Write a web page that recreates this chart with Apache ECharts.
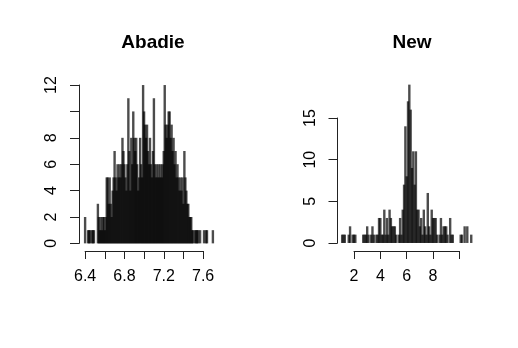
<!DOCTYPE html>
<html>
<head>
<meta charset="utf-8">
<script src="https://cdn.jsdelivr.net/npm/echarts@6/dist/echarts.min.js"></script>
<style>html,body{margin:0;padding:0;background:#fff}#c{width:518px;height:348px}</style>
</head>
<body>
<div id="c"></div>
<script>
// ---- Data: Abadie (value -> count) ----
var abadieX = [6.40,6.43,6.44,6.45,6.47,6.48,6.49,6.53,6.54,6.55,6.56,6.57,6.58,6.59,6.60,6.61,
  6.62,6.63,6.64,6.65,6.66,6.67,6.68,6.69,6.70,6.71,6.72,6.73,6.74,6.75,6.76,6.77,
  6.78,6.79,6.80,6.81,6.82,6.83,6.84,6.85,6.86,6.87,6.88,6.89,6.90,6.91,6.92,6.93,6.94,6.95,6.96,6.97,6.98,
  6.99,7.00,7.01,7.02,7.03,7.04,7.05,7.06,7.07,7.08,7.09,7.10,7.11,7.12,7.13,7.14,7.15,7.16,7.17,7.18,7.19,7.20,
  7.21,7.22,7.23,7.24,7.25,7.26,7.27,7.28,7.29,7.30,7.31,7.32,7.33,7.34,7.35,7.36,7.37,7.38,7.39,7.40,
  7.41,7.42,7.43,7.44,7.45,7.46,7.47,7.48,7.49,7.50,7.52,7.53,7.54,7.55,7.57,7.61,7.63,7.64,7.70];
var abadieCount = [2,1,1,1,1,1,1,3,2,1,2,1,2,2,1,2,
  5,5,3,5,3,2,4,5,7,5,4,6,5,6,5,6,
  8,7,6,5,4,6,11,7,4,8,6,10,8,7,8,6,4,5,8,6,5,
  12,10,9,8,9,7,6,8,6,5,7,11,6,5,6,5,6,5,6,5,6,7,
  12,9,8,9,10,10,8,9,7,8,6,7,5,6,5,4,5,4,5,3,
  7,5,4,3,3,2,2,2,1,1,1,1,1,1,1,1,1,1,1];

// ---- Data: New (value -> count) ----
var newX = [1.1,1.2,1.3,1.6,1.7,1.9,2.0,2.1,2.7,2.8,2.9,3.0,3.1,3.3,3.4,3.5,3.7,3.8,3.9,4.0,
  4.1,4.2,4.3,4.4,4.5,4.6,4.7,4.8,4.9,5.0,5.1,5.2,5.4,5.5,5.6,5.7,5.8,5.9,6.0,6.1,6.2,6.3,
  6.4,6.5,6.6,6.7,6.8,6.9,7.0,7.1,7.2,7.3,7.4,7.5,7.6,7.7,7.8,7.9,8.0,8.1,8.2,8.3,8.5,8.6,
  8.7,8.8,8.9,9.0,9.1,9.3,9.4,9.5,10.1,10.2,10.4,10.6,10.9];
var newCount = [1,1,1,1,2,1,1,1,1,1,1,2,1,1,2,1,1,1,3,3,
  1,1,4,1,3,1,4,3,2,2,2,1,1,3,1,4,7,14,8,17,19,16,
  9,11,7,11,4,4,2,3,1,4,2,1,6,2,1,4,3,3,3,1,1,3,
  1,2,2,2,1,3,1,1,1,1,2,2,1];

// ---- Axis ticks ----
var abadieXTicks = {min: 6.4, max: 7.6, step: 0.2, labels: ['6.4','6.8','7.2','7.6']};
var abadieYTicks = {min: 0, max: 12, step: 2, labels: ['0','2','4','6','8','12']};
var newXTicks = {min: 2, max: 10, step: 2, labels: ['2','4','6','8']};
var newYTicks = {min: 0, max: 15, step: 5, labels: ['0','5','10','15']};
var titles = ['Abadie', 'New'];

function pairs(xs, ys) { return xs.map(function (x, i) { return [x, ys[i]]; }); }
function fmt(v) { return String(Math.round(v * 100) / 100); }

var FONT = '"Liberation Sans", Arial, Helvetica, sans-serif';
var AX = '#222';

function tickXAxis(gi, t) {
  return {
    type: 'value', gridIndex: gi, min: t.min, max: t.max, interval: t.step,
    axisLine: {show: true, onZero: false, lineStyle: {color: AX, width: 1}},
    axisTick: {show: true, length: 8, lineStyle: {color: AX, width: 1}},
    splitLine: {show: false},
    axisLabel: {
      show: true, margin: 18, fontSize: 16, color: '#000', fontFamily: FONT,
      showMinLabel: true, showMaxLabel: true,
      formatter: function (v) { var s = fmt(v); return t.labels.indexOf(s) >= 0 ? s : ''; }
    }
  };
}
function tickYAxis(gi, t) {
  return {
    type: 'value', gridIndex: gi, min: t.min, max: t.max, interval: t.step,
    axisLine: {show: true, onZero: false, lineStyle: {color: AX, width: 1}},
    axisTick: {show: true, length: 9, lineStyle: {color: AX, width: 1}},
    splitLine: {show: false},
    axisLabel: {
      show: true, rotate: 90, margin: 19, fontSize: 16, color: '#000', fontFamily: FONT,
      showMinLabel: true, showMaxLabel: true,
      formatter: function (v) { var s = fmt(v); return t.labels.indexOf(s) >= 0 ? s : ''; }
    }
  };
}
function hiddenAxis(gi, mn, mx) {
  return {type: 'value', gridIndex: gi, min: mn, max: mx, show: false,
    axisLine: {show: false}, axisTick: {show: false}, axisLabel: {show: false}, splitLine: {show: false}};
}

var chart = echarts.init(document.getElementById('c'), null, {renderer: 'canvas'});
chart.setOption({
  animation: false,
  backgroundColor: '#fff',
  title: [
    {text: titles[0], left: 148, top: 28, textAlign: 'center',
     textStyle: {fontSize: 19, fontWeight: 'bold', color: '#000', fontFamily: FONT}},
    {text: titles[1], left: 407, top: 28, textAlign: 'center',
     textStyle: {fontSize: 19, fontWeight: 'bold', color: '#000', fontFamily: FONT}}
  ],
  grid: [
    {left: 80, top: 78.7, width: 138, height: 171},      // 0 Abadie data
    {left: 85.1, top: 200, width: 118, height: 51},      // 1 Abadie x axis
    {left: 79, top: 85, width: 10, height: 158.4},       // 2 Abadie y axis
    {left: 337, top: 78.3, width: 139.4, height: 171},   // 3 New data
    {left: 354, top: 200, width: 105.4, height: 51},     // 4 New x axis
    {left: 337.5, top: 118, width: 10, height: 125}      // 5 New y axis
  ],
  xAxis: [
    hiddenAxis(0, 6.348, 7.752),
    tickXAxis(1, abadieXTicks),
    hiddenAxis(2, 0, 1),
    hiddenAxis(3, 0.708, 11.292),
    tickXAxis(4, newXTicks),
    hiddenAxis(5, 0, 1)
  ],
  yAxis: [
    hiddenAxis(0, -0.48, 12.48),
    hiddenAxis(1, 0, 1),
    tickYAxis(2, abadieYTicks),
    hiddenAxis(3, -0.76, 19.76),
    hiddenAxis(4, 0, 1),
    tickYAxis(5, newYTicks)
  ],
  series: [
    {type: 'bar', xAxisIndex: 0, yAxisIndex: 0, barWidth: 2.4, large: false,
     itemStyle: {color: 'rgba(0,0,0,0.7)'}, data: pairs(abadieX, abadieCount)},
    {type: 'bar', xAxisIndex: 3, yAxisIndex: 3, barWidth: 2.4, large: false,
     itemStyle: {color: 'rgba(0,0,0,0.7)'}, data: pairs(newX, newCount)}
  ]
});
</script>
</body>
</html>
